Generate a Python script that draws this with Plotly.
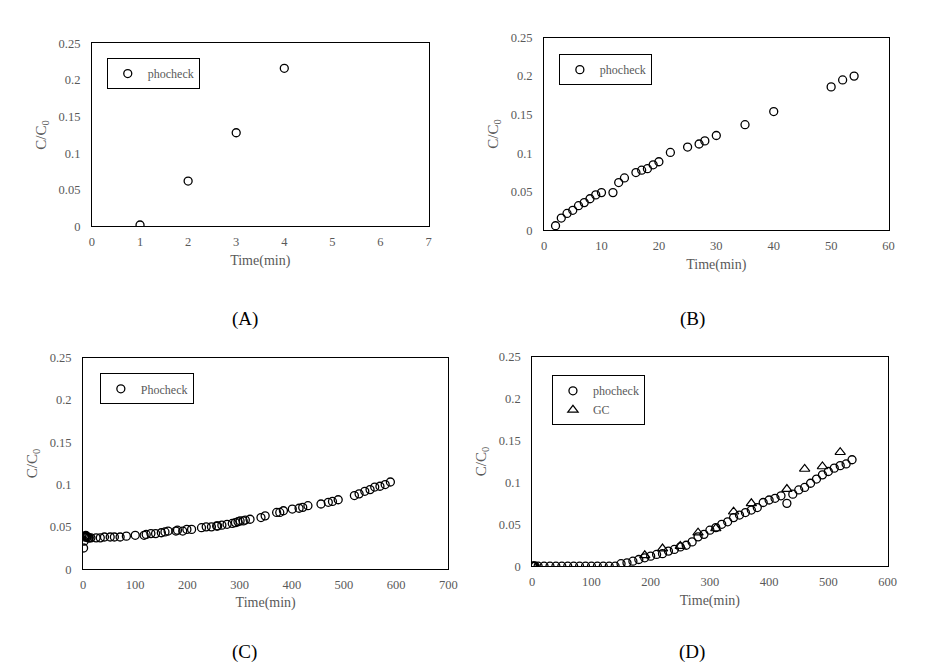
import plotly.graph_objects as go

# ---------------- data ----------------
a_time = [1, 2, 3, 4]
a_phocheck = [0.002, 0.062, 0.128, 0.216]

b_time = [2, 3, 4, 5, 6, 7, 8, 9, 10, 12, 13, 14, 16, 17, 18, 19, 20, 22, 25, 27, 28, 30, 35, 40, 50, 52, 54]
b_phocheck = [0.006, 0.016, 0.022, 0.026, 0.032, 0.036, 0.041, 0.046, 0.049, 0.049, 0.062, 0.068,
              0.075, 0.078, 0.080, 0.085, 0.089, 0.101, 0.108, 0.112, 0.116, 0.123, 0.137, 0.154,
              0.186, 0.195, 0.200]

c_time = [1, 2, 3, 4, 5, 6, 7, 8, 10, 12, 15, 25, 33, 41, 52, 60, 71, 83, 100, 117, 121, 130, 139,
          150, 157, 163, 178, 181, 191, 199, 208, 227, 236, 246, 256, 258, 266, 276, 286, 292, 297,
          301, 307, 311, 320, 341, 349, 371, 377, 384, 401, 414, 421, 431, 456, 470, 478, 489, 520,
          529, 540, 550, 559, 569, 579, 589]
c_phocheck = [0.025, 0.033, 0.038, 0.039, 0.040, 0.039, 0.038, 0.038, 0.037, 0.037, 0.037, 0.037,
              0.037, 0.038, 0.038, 0.038, 0.038, 0.039, 0.040, 0.040, 0.041, 0.042, 0.042, 0.043,
              0.044, 0.045, 0.045, 0.046, 0.045, 0.047, 0.047, 0.049, 0.050, 0.050, 0.051, 0.051,
              0.052, 0.053, 0.054, 0.055, 0.056, 0.057, 0.057, 0.058, 0.059, 0.061, 0.063, 0.067,
              0.067, 0.069, 0.071, 0.072, 0.073, 0.075, 0.077, 0.079, 0.080, 0.082, 0.087, 0.089,
              0.092, 0.094, 0.097, 0.098, 0.100, 0.103]

d_time = [0, 1, 2, 3, 4, 5, 10, 20, 30, 40, 50, 60, 70, 80, 90, 100, 110, 120, 130, 140,
          150, 160, 170, 180, 190, 200, 210, 220, 230, 240, 250, 260, 270, 280, 290, 300,
          310, 320, 330, 340, 350, 360, 370, 380, 390, 400, 410, 420, 430, 440, 450, 460,
          470, 480, 490, 500, 510, 520, 530, 540]
d_phocheck = [0, 0, 0, 0, 0, 0, 0, 0, 0, 0, 0, 0, 0, 0, 0, 0, 0, 0, 0, 0,
              0.003, 0.004, 0.006, 0.008, 0.010, 0.012, 0.014, 0.015, 0.018, 0.020, 0.023, 0.025,
              0.029, 0.035, 0.038, 0.043, 0.046, 0.050, 0.053, 0.058, 0.061, 0.064, 0.067, 0.070,
              0.076, 0.079, 0.081, 0.084, 0.075, 0.086, 0.091, 0.094, 0.099, 0.104, 0.109, 0.113,
              0.117, 0.120, 0.122, 0.127]
d_gc_time = [190, 220, 250, 280, 310, 340, 370, 430, 460, 490, 520]
d_gc = [0.013, 0.021, 0.024, 0.040, 0.045, 0.065, 0.075, 0.092, 0.116, 0.119, 0.136]

panel_labels = ["(A)", "(B)", "(C)", "(D)"]
x_title = "Time(min)"
y_title = "C/C<sub>0</sub>"

# ---------------- style ----------------
W, H = 933, 668
FONT = "Liberation Serif"
GRAY = "#595959"

def px_x(p):
    return p / W

def px_y(p):
    return 1 - p / H

circle = dict(symbol="circle-open", size=8, color="black", line=dict(width=1.3, color="black"))
triangle = dict(symbol="triangle-up-open", size=9, color="black", line=dict(width=1.2, color="black"))

fig = go.Figure()

fig.add_trace(go.Scatter(x=a_time, y=a_phocheck, mode="markers", marker=circle,
                         name="phocheck", xaxis="x", yaxis="y", legend="legend"))
fig.add_trace(go.Scatter(x=b_time, y=b_phocheck, mode="markers", marker=circle,
                         name="phocheck", xaxis="x2", yaxis="y2", legend="legend2"))
fig.add_trace(go.Scatter(x=c_time, y=c_phocheck, mode="markers", marker=circle,
                         name="Phocheck", xaxis="x3", yaxis="y3", legend="legend3"))
fig.add_trace(go.Scatter(x=d_time, y=d_phocheck, mode="markers", marker=circle,
                         name="phocheck", xaxis="x4", yaxis="y4", legend="legend4"))
fig.add_trace(go.Scatter(x=d_gc_time, y=d_gc, mode="markers", marker=triangle,
                         name="GC", xaxis="x4", yaxis="y4", legend="legend4"))

# panel boxes in pixels: (left, right, top, bottom)
boxes = [(82, 423, 29, 216), (540, 889, 23, 220), (73, 443, 350, 566), (528, 888, 349, 563)]
xranges = [[0, 7], [0, 60], [0, 700], [0, 600]]
xdticks = [1, 10, 100, 100]

def xaxis(i):
    l, r, t, b = boxes[i]
    return dict(domain=[px_x(l), px_x(r)], range=xranges[i], dtick=xdticks[i],
                anchor="y" if i == 0 else f"y{i+1}",
                showgrid=False, zeroline=False, showline=True, linecolor="black",
                linewidth=1, mirror=True, ticks="", ticklabelstandoff=4,
                tickfont=dict(family=FONT, size=12.5, color=GRAY),
                title=dict(text=x_title, font=dict(family=FONT, size=14, color=GRAY), standoff=6))

def yaxis(i):
    l, r, t, b = boxes[i]
    return dict(domain=[px_y(b), px_y(t)], range=[0, 0.25], dtick=0.05,
                anchor="x" if i == 0 else f"x{i+1}",
                showgrid=False, zeroline=False, showline=True, linecolor="black",
                linewidth=1, mirror=True, ticks="", ticklabelstandoff=8,
                tickfont=dict(family=FONT, size=12.5, color=GRAY),
                title=dict(text=y_title, font=dict(family=FONT, size=15, color=GRAY), standoff=8))

legend_pos = [(97, 44), (555, 40), (90, 366), (548, 368)]

def legend(i):
    x, y = legend_pos[i]
    return dict(x=px_x(x), y=px_y(y), xanchor="left", yanchor="top",
                bgcolor="white", bordercolor="black", borderwidth=1,
                font=dict(family=FONT, size=12, color=GRAY),
                itemwidth=30, tracegroupgap=0)

layout = dict(width=W, height=H, margin=dict(l=0, r=0, t=0, b=0),
              plot_bgcolor="white", paper_bgcolor="white", showlegend=True)
for i in range(4):
    sfx = "" if i == 0 else str(i + 1)
    layout[f"xaxis{sfx}"] = xaxis(i)
    layout[f"yaxis{sfx}"] = yaxis(i)
    layout[f"legend{sfx}"] = legend(i)

fig.update_layout(**layout)

label_pos = [(237, 311), (690, 311), (237, 651), (690, 651)]
for txt, (x, y) in zip(panel_labels, label_pos):
    fig.add_annotation(text=txt, x=px_x(x), y=px_y(y), xref="paper", yref="paper",
                       showarrow=False, xanchor="center", yanchor="middle",
                       font=dict(family=FONT, size=19, color="black"))

fig.write_html("out.html")
